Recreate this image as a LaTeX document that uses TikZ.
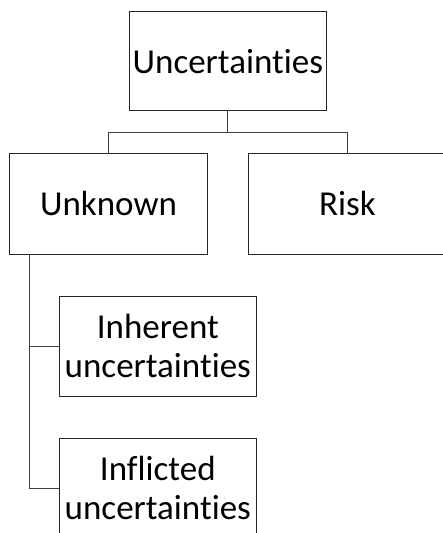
\documentclass[tikz,border=0pt]{standalone}
\usepackage{fontspec}
\setmainfont{Carlito}[Ligatures={NoCommon}]
\usepackage{tikz}

\begin{document}
\begin{tikzpicture}[x=1pt, y=-1pt,
  box/.style={draw=black!85, line width=0.8pt, rectangle, inner sep=0pt,
    align=center, font=\fontsize{35}{38.5}\selectfont},
  link/.style={draw=black!75, line width=0.8pt}]

\useasboundingbox (0,0) rectangle (443,533);

\node[box, minimum width=197pt, minimum height=99pt] (uncert) at (227.8,61.3) {Uncertainties};
\node[box, minimum width=198pt, minimum height=101pt] (unknown) at (108.5,203.7) {Unknown};
\node[box, minimum width=198pt, minimum height=101pt] (risk) at (347.5,203.7) {Risk};
\node[box, minimum width=197pt, minimum height=100pt] (inherent) at (157.8,345.9) {Inherent\\uncertainties};
\node[box, minimum width=197pt, minimum height=100pt] (inflicted) at (157.8,488) {Inflicted\\uncertainties};

\coordinate (split) at ([yshift=-20.7pt]uncert.south);
\coordinate (trunk) at ([xshift=20pt]unknown.south west);

\draw[link] (uncert.south) -- (split);
\draw[link] (split) -| (unknown.north);
\draw[link] (split) -| (risk.north);
\draw[link] (trunk) |- (inherent.west);
\draw[link] (trunk) |- (inflicted.west);
\end{tikzpicture}
\end{document}
